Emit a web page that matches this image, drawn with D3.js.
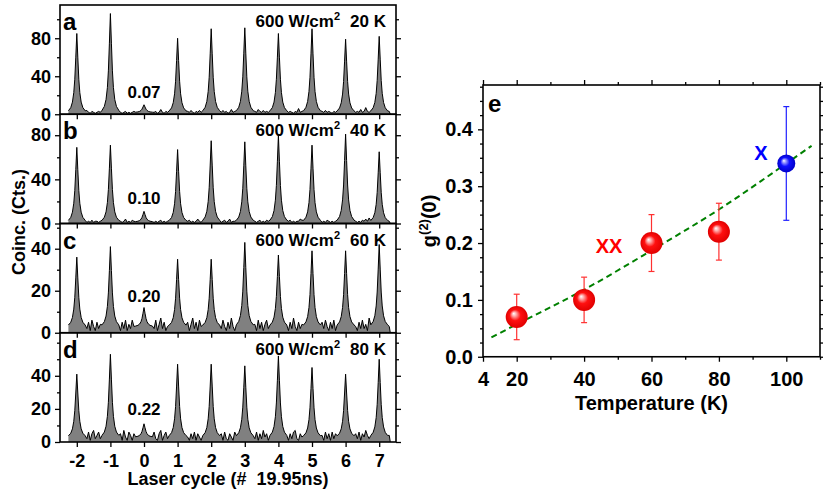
<!DOCTYPE html>
<html><head><meta charset="utf-8">
<script src="https://cdn.jsdelivr.net/npm/d3@7"></script>
<style>
body{margin:0;background:#fff}
svg{display:block}
text{font-family:"Liberation Sans",Arial,Helvetica,sans-serif;font-weight:bold;fill:#000}
</style>
</head><body>
<svg id="chart" width="823" height="492"></svg>
<script>
// ---------------- data: panels a-d (coincidence histograms) ----------------
const cycles = [-2,-1,0,1,2,3,4,5,6,7];
const panelLetters = ["a","b","c","d"];
const powerLabel = "600 W/cm";
const tempLabels = ["20 K","40 K","60 K","80 K"];
const g2Labels = ["0.07","0.10","0.20","0.22"];
const yMaxes = [115, 99, 52, 66];
const yMajorA = [0,40,80],  yMinorA = [20,60,100];
const yMajorB = [0,40,80],  yMinorB = [20,60];
const yMajorC = [0,20,40],  yMinorC = [10,30,50];
const yMajorD = [0,20,40],  yMinorD = [10,30,50,60];
// peak heights at cycles -2..7
const peaksA = [85,106,10,80,90,91,85,90,79,82];
const peaksB = [69,71,11,67,75,74,80,71,81,65];
const peaksC = [36,41,12,35,35,43,37,39,39,42];
const peaksD = [41,53,11,47,47,46,52,45,41,50];
const baseA = 2, baseB = 1.5, baseC = 3, baseD = 3;
// peak profile (offset in cycles, fraction of peak height)
const peakOffsets = [-0.25,-0.18,-0.13,-0.09,-0.06,-0.03,0,0.03,0.06,0.09,0.13,0.18,0.25];
const peakShape   = [0.02,0.06,0.13,0.25,0.42,0.7,1,0.7,0.42,0.25,0.13,0.06,0.02];
// baseline counts between peaks (9 samples per gap, 9 gaps)
const gapOffsets = [0.30,0.35,0.40,0.45,0.50,0.55,0.60,0.65,0.70];
const noiseA = [4,2,1,3,2,1,2,3,2, 2,1,2,3,1,2,1,2,3, 2,3,1,2,5,2,1,3,2, 3,2,4,2,1,3,2,4,2,
  2,4,2,3,1,2,5,2,3, 3,2,5,3,2,4,2,3,2, 2,3,2,1,3,2,6,2,3, 3,2,4,2,3,2,1,3,2, 2,3,2,5,2,3,7,3,2];
const noiseB = [1,2,1,3,1,2,2,1,2, 2,1,2,4,1,2,1,3,2, 1,2,1,2,3,1,2,1,2, 2,3,1,2,1,2,4,2,1,
  1,2,3,1,2,4,1,2,2, 2,1,2,3,1,2,1,3,2, 2,3,1,2,1,2,2,4,3, 1,2,1,3,2,1,2,1,2, 2,1,2,1,3,2,4,2,5];
const noiseC = [2,5,1,6,3,1,5,2,4, 1,5,2,6,1,4,2,6,3, 2,6,1,4,7,2,5,1,3, 5,1,4,7,2,5,1,6,3,
  2,6,3,1,5,2,7,3,1, 4,1,6,2,5,1,4,6,2, 1,5,2,7,3,1,5,2,4, 5,2,6,3,1,5,2,6,1, 3,1,5,2,6,2,4,1,7];
const noiseD = [2,6,1,5,7,2,4,6,2, 5,1,7,3,1,6,4,1,5, 6,2,1,5,7,1,4,6,2, 3,1,5,2,6,1,5,3,1,
  5,1,6,2,1,5,3,1,6, 2,6,1,5,2,7,3,5,1, 1,5,2,6,7,2,1,5,3, 4,1,6,2,5,1,6,2,5, 5,2,6,1,5,3,7,4,2];
const tailOffsets = [0.30, 0.33];
const tailA = [3,0], tailB = [2,0], tailC = [3,0], tailD = [4,0];

// ---------------- data: panel e ----------------
const temperatures = [20,40,60,80,100];
const g2Values = [0.07,0.10,0.20,0.22,0.34];
const g2Errors = [0.04,0.04,0.05,0.05,0.10];
const pointKind = ["XX","XX","XX","XX","X"];
const fitT  = [12.5,20,40,60,80,100,107.5];
const fitG2 = [0.034,0.057,0.118,0.187,0.259,0.340,0.371];
const eXTickVals = [10,20,40,60,80,100];
const eXTickLabels = ["4","20","40","60","80","100"];
const eXMinor = [30,50,70,90,110];
const eYMajor = [0,0.1,0.2,0.3,0.4];
const eYMinor = [0.025,0.05,0.075,0.125,0.15,0.175,0.225,0.25,0.275,0.325,0.35,0.375,0.425,0.45,0.475];

// ---------------- layout ----------------
const svg = d3.select("#chart");
const defs = svg.append("defs");
const LX0 = 60, LX1 = 396, PH = 109.25, PT = [5,114.25,223.5,332.75];
const labelLift = [16.5, 20, 31, 27];
const xL = d3.scaleLinear([-2.5,7.5],[LX0,LX1]);

const panels = [
  {peaks:peaksA, noise:noiseA, base:baseA, tail:tailA, major:yMajorA, minor:yMinorA},
  {peaks:peaksB, noise:noiseB, base:baseB, tail:tailB, major:yMajorB, minor:yMinorB},
  {peaks:peaksC, noise:noiseC, base:baseC, tail:tailC, major:yMajorC, minor:yMinorC},
  {peaks:peaksD, noise:noiseD, base:baseD, tail:tailD, major:yMajorD, minor:yMinorD}
];

function styleAxis(g, size){
  g.select(".domain").remove();
  g.selectAll("line").attr("stroke","#000").attr("stroke-width",1.3);
  g.selectAll("text").attr("font-size",size).attr("font-family",null).attr("fill","#000");
}

panels.forEach((p,i)=>{
  const top = PT[i], bot = top+PH;
  const y = d3.scaleLinear([0,yMaxes[i]],[bot,top]);
  const pts = [];
  cycles.forEach((c,k)=>{
    peakOffsets.forEach((o,j)=>pts.push([c+o, p.base+(p.peaks[k]-p.base)*peakShape[j]]));
    if(k<cycles.length-1){
      gapOffsets.forEach((o,j)=>pts.push([c+o, p.noise[k*gapOffsets.length+j]]));
    }
  });
  tailOffsets.forEach((o,j)=>pts.push([cycles[cycles.length-1]+o, p.tail[j]]));

  const cid = "clip"+i;
  defs.append("clipPath").attr("id",cid).append("rect")
    .attr("x",LX0).attr("y",top).attr("width",LX1-LX0).attr("height",PH);
  const g = svg.append("g");
  const inner = g.append("g").attr("clip-path",`url(#${cid})`);
  inner.append("path").datum(pts)
    .attr("d", d3.area().x(d=>xL(d[0])).y0(y(0)).y1(d=>y(d[1])))
    .attr("fill","#808080");
  inner.append("path").datum(pts)
    .attr("d", d3.line().x(d=>xL(d[0])).y(d=>y(d[1])))
    .attr("fill","none").attr("stroke","#000").attr("stroke-width",1);

  g.append("g").attr("transform",`translate(${LX0},0)`)
    .call(d3.axisLeft(y).tickValues(p.major).tickSize(5).tickPadding(4).tickFormat(d=>String(d)))
    .call(a=>styleAxis(a,18));
  g.append("g").attr("transform",`translate(${LX0},0)`)
    .call(d3.axisLeft(y).tickValues(p.minor).tickSize(3).tickFormat(""))
    .call(a=>styleAxis(a,18));
  g.append("g").attr("transform",`translate(${LX1},0)`)
    .call(d3.axisRight(y).tickValues(p.major).tickSize(5).tickFormat(""))
    .call(a=>styleAxis(a,18));
  g.append("g").attr("transform",`translate(${LX1},0)`)
    .call(d3.axisRight(y).tickValues(p.minor).tickSize(3).tickFormat(""))
    .call(a=>styleAxis(a,18));
  g.append("g").attr("transform",`translate(0,${bot})`)
    .call(d3.axisBottom(xL).tickValues(cycles).tickSize(5).tickPadding(7)
      .tickFormat(i===3 ? (d=>String(d)) : ""))
    .call(a=>styleAxis(a,18));
  g.append("rect").attr("x",LX0).attr("y",top).attr("width",LX1-LX0).attr("height",PH)
    .attr("fill","none").attr("stroke","#000").attr("stroke-width",1.6);
  g.append("text").attr("x",LX0+3).attr("y",top+25).attr("font-size",24).text(panelLetters[i]);
  const t = g.append("text").attr("x",LX1-10).attr("y",top+22).attr("font-size",17)
    .attr("text-anchor","end").style("white-space","pre");
  t.append("tspan").text(powerLabel);
  t.append("tspan").attr("font-size",11).attr("dy",-7).text("2");
  t.append("tspan").attr("dy",7).attr("dx",10).text(tempLabels[i]);
  g.append("text").attr("x",xL(0)).attr("y",bot-labelLift[i]).attr("font-size",17)
    .attr("text-anchor","middle").text(g2Labels[i]);
});

svg.append("text").attr("x",(LX0+LX1)/2).attr("y",485).attr("font-size",18)
  .attr("text-anchor","middle").style("white-space","pre").text("Laser cycle (#  19.95ns)");
svg.append("text").attr("transform","translate(25,222) rotate(-90)").attr("font-size",18)
  .attr("text-anchor","middle").text("Coinc. (Cts.)");

// ---------------- panel e ----------------
const EX0 = 483, EX1 = 820, ET = 85, EB = 356.75;
const xE = d3.scaleLinear([10,110],[EX0,EX1]);
const yE = d3.scaleLinear([0,0.478],[EB,ET]);
const ge = svg.append("g");

function grad(id, c0, c1, c2, c3){
  const r = defs.append("radialGradient").attr("id",id)
    .attr("cx","50%").attr("cy","50%").attr("r","50%").attr("fx","36%").attr("fy","34%");
  r.append("stop").attr("offset","0%").attr("stop-color",c0);
  r.append("stop").attr("offset","18%").attr("stop-color",c1);
  r.append("stop").attr("offset","50%").attr("stop-color",c2);
  r.append("stop").attr("offset","100%").attr("stop-color",c3);
}
grad("gRed","#ffffff","#ffb0b0","#ff1010","#e00000");
grad("gBlue","#ffffff","#a0a0ff","#1010ff","#0000c8");

ge.append("path").datum(fitT.map((t,i)=>[t,fitG2[i]]))
  .attr("d", d3.line().x(d=>xE(d[0])).y(d=>yE(d[1])).curve(d3.curveMonotoneX))
  .attr("fill","none").attr("stroke","#008000").attr("stroke-width",2).attr("stroke-dasharray","6,4");

temperatures.forEach((t,i)=>{
  const col = pointKind[i]==="X" ? "#2020ff" : "#ff3030";
  const cx = xE(t), y0 = yE(g2Values[i]-g2Errors[i]), y1 = yE(g2Values[i]+g2Errors[i]);
  ge.append("line").attr("x1",cx).attr("x2",cx).attr("y1",y0).attr("y2",y1).attr("stroke",col).attr("stroke-width",1.2);
  [y0,y1].forEach(yy=>ge.append("line").attr("x1",cx-3).attr("x2",cx+3).attr("y1",yy).attr("y2",yy)
    .attr("stroke",col).attr("stroke-width",1.2));
});
temperatures.forEach((t,i)=>{
  const isX = pointKind[i]==="X";
  ge.append("circle").attr("cx",xE(t)).attr("cy",yE(g2Values[i])).attr("r", isX ? 9 : 11)
    .attr("fill", isX ? "url(#gBlue)" : "url(#gRed)");
});

ge.append("g").attr("transform",`translate(0,${EB})`)
  .call(d3.axisBottom(xE).tickValues(eXTickVals).tickSize(5).tickPadding(10)
    .tickFormat((d,i)=>eXTickLabels[i])).call(a=>styleAxis(a,20));
ge.append("g").attr("transform",`translate(0,${EB})`)
  .call(d3.axisBottom(xE).tickValues(eXMinor).tickSize(3).tickFormat("")).call(a=>styleAxis(a,20));
ge.append("g").attr("transform",`translate(0,${ET})`)
  .call(d3.axisTop(xE).tickValues(eXTickVals).tickSize(5).tickFormat("")).call(a=>styleAxis(a,20));
ge.append("g").attr("transform",`translate(0,${ET})`)
  .call(d3.axisTop(xE).tickValues(eXMinor).tickSize(3).tickFormat("")).call(a=>styleAxis(a,20));
ge.append("g").attr("transform",`translate(${EX0},0)`)
  .call(d3.axisLeft(yE).tickValues(eYMajor).tickSize(5).tickPadding(5).tickFormat(d3.format(".1f")))
  .call(a=>styleAxis(a,20));
ge.append("g").attr("transform",`translate(${EX0},0)`)
  .call(d3.axisLeft(yE).tickValues(eYMinor).tickSize(3).tickFormat("")).call(a=>styleAxis(a,20));
ge.append("g").attr("transform",`translate(${EX1},0)`)
  .call(d3.axisRight(yE).tickValues(eYMajor).tickSize(5).tickFormat("")).call(a=>styleAxis(a,20));
ge.append("g").attr("transform",`translate(${EX1},0)`)
  .call(d3.axisRight(yE).tickValues(eYMinor).tickSize(3).tickFormat("")).call(a=>styleAxis(a,20));
ge.append("rect").attr("x",EX0).attr("y",ET).attr("width",EX1-EX0).attr("height",EB-ET)
  .attr("fill","none").attr("stroke","#000").attr("stroke-width",1.6);

ge.append("text").attr("x",EX0+5).attr("y",ET+27).attr("font-size",24).text("e");
ge.append("text").attr("x",609).attr("y",253).attr("font-size",20).attr("text-anchor","middle")
  .style("fill","#ff0000").text("XX");
ge.append("text").attr("x",761).attr("y",160).attr("font-size",20).attr("text-anchor","middle")
  .style("fill","#0000ff").text("X");
ge.append("text").attr("x",(EX0+EX1)/2).attr("y",410).attr("font-size",20)
  .attr("text-anchor","middle").text("Temperature (K)");
const yt = ge.append("text").attr("transform",`translate(436,${(ET+EB)/2}) rotate(-90)`)
  .attr("font-size",20).attr("text-anchor","middle");
yt.append("tspan").text("g");
yt.append("tspan").attr("font-size",13).attr("dy",-8).text("(2)");
yt.append("tspan").attr("dy",8).text("(0)");
</script>
</body></html>
